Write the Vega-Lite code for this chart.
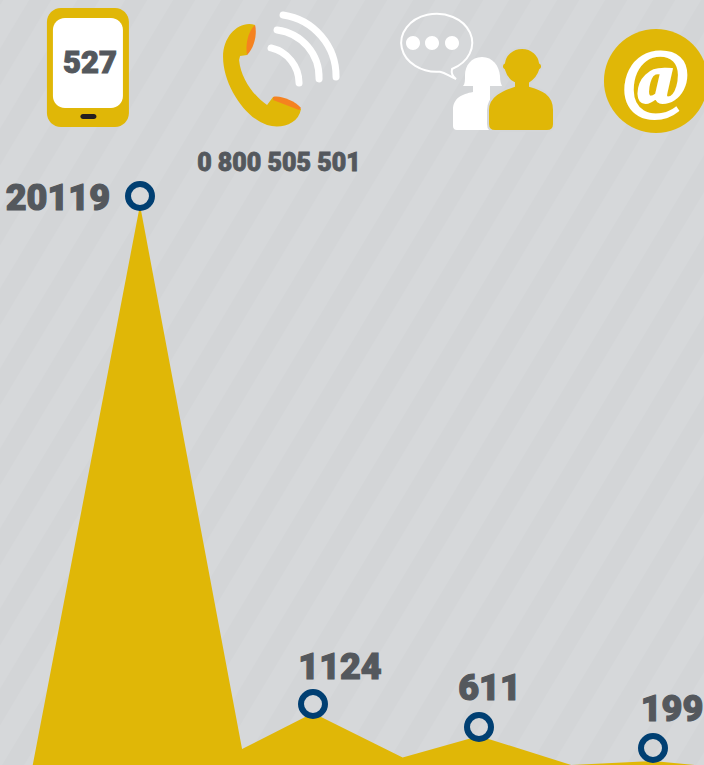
{"$schema":"https://vega.github.io/schema/vega-lite/v6.json","width":704,"height":765,"padding":0,"autosize":{"type":"none"},"background":"#d6d8da","view":{"stroke":null},
"datasets":{"series":[{"rank":0.38,"value":0},{"rank":1,"value":20119},{"rank":1.59,"value":395},{"rank":2,"value":1124},{"rank":2.54,"value":258},{"rank":3,"value":611},{"rank":3.53,"value":0},{"rank":4,"value":199},{"rank":4.24,"value":0}],
"peaks":[{"rank":1,"value":20119},{"rank":2,"value":1124},{"rank":3,"value":611},{"rank":4,"value":199}],
"icons":[{"name":"phone","rank":0.699,"value":25242},{"name":"handset","rank":1.694,"value":24981},{"name":"people","rank":2.982,"value":25093},{"name":"at","rank":4.017,"value":24756},{"name":"number","rank":1.803,"value":21727},{"name":"stripes","rank":2.235,"value":13502}]},
"encoding":{"x":{"field":"rank","type":"quantitative","axis":null,"scale":{"domain":[1,2,3,4],"range":[140,313,479,653],"zero":false,"nice":false}},"y":{"field":"value","type":"quantitative","axis":null,"scale":{"domain":[0,199,611,1124,20119,26000],"range":[765,761,736,713,205,47.7],"zero":false,"nice":false}}},
"layer":[
{"data":{"name":"icons"},"transform":[{"filter":"datum.name==='stripes'"}],"mark":{"type":"point","filled":true,"opacity":1,"size":4,"fill":"#d3d5d7","strokeWidth":0,"shape":"M-360 -400h22l-480 800h-22zM-312 -400h22l-480 800h-22zM-264 -400h22l-480 800h-22zM-216 -400h22l-480 800h-22zM-168 -400h22l-480 800h-22zM-120 -400h22l-480 800h-22zM-72 -400h22l-480 800h-22zM-24 -400h22l-480 800h-22zM24 -400h22l-480 800h-22zM72 -400h22l-480 800h-22zM120 -400h22l-480 800h-22zM168 -400h22l-480 800h-22zM216 -400h22l-480 800h-22zM264 -400h22l-480 800h-22zM312 -400h22l-480 800h-22zM360 -400h22l-480 800h-22zM408 -400h22l-480 800h-22zM456 -400h22l-480 800h-22zM504 -400h22l-480 800h-22zM552 -400h22l-480 800h-22zM600 -400h22l-480 800h-22zM648 -400h22l-480 800h-22zM696 -400h22l-480 800h-22zM744 -400h22l-480 800h-22zM792 -400h22l-480 800h-22zM840 -400h22l-480 800h-22z"}},
{"data":{"name":"series"},"mark":{"type":"area","color":"#e0b707","line":false,"opacity":1}},
{"data":{"name":"peaks"},"transform":[{"filter":"datum.value>199"}],"mark":{"type":"point","filled":false,"opacity":1,"size":576,"stroke":"#003f72","strokeWidth":6,"yOffset":-9}},
{"data":{"name":"peaks"},"transform":[{"filter":"datum.value===199"}],"mark":{"type":"point","filled":false,"opacity":1,"size":576,"stroke":"#003f72","strokeWidth":6,"yOffset":-13}},
{"data":{"name":"peaks"},"transform":[{"filter":"datum.value===20119"}],"mark":{"type":"text","font":"Roboto","fontWeight":900,"fontSize":36,"color":"#54585d","stroke":"#54585d","strokeWidth":1.2,"align":"right","baseline":"middle","dx":-30,"dy":-6},"encoding":{"text":{"field":"value","type":"quantitative","format":"d"}}},
{"data":{"name":"peaks"},"transform":[{"filter":"datum.value===1124"}],"mark":{"type":"text","font":"Roboto","fontWeight":900,"fontSize":36,"color":"#54585d","stroke":"#54585d","strokeWidth":1.2,"align":"center","baseline":"middle","dx":27,"dy":-45},"encoding":{"text":{"field":"value","type":"quantitative","format":"d"}}},
{"data":{"name":"peaks"},"transform":[{"filter":"datum.value===611"}],"mark":{"type":"text","font":"Roboto","fontWeight":900,"fontSize":36,"color":"#54585d","stroke":"#54585d","strokeWidth":1.2,"align":"center","baseline":"middle","dx":10.5,"dy":-47.5},"encoding":{"text":{"field":"value","type":"quantitative","format":"d"}}},
{"data":{"name":"peaks"},"transform":[{"filter":"datum.value===199"}],"mark":{"type":"text","font":"Roboto","fontWeight":900,"fontSize":36,"color":"#54585d","stroke":"#54585d","strokeWidth":1.2,"align":"center","baseline":"middle","dx":19,"dy":-51.5},"encoding":{"text":{"field":"value","type":"quantitative","format":"d"}}},
{"data":{"name":"icons"},"transform":[{"filter":"datum.name==='phone'"}],"layer":[
{"mark":{"type":"point","filled":true,"opacity":1,"size":4,"fill":"#e0b707","strokeWidth":0,"shape":"M-27 -60H27A14 14 0 0 1 41 -46V45A14 14 0 0 1 27 59H-27A14 14 0 0 1 -41 45V-46A14 14 0 0 1 -27 -60Z"}},
{"mark":{"type":"point","filled":true,"opacity":1,"size":4,"fill":"#ffffff","strokeWidth":0,"shape":"M-23 -50H23A12 12 0 0 1 35 -38V28A12 12 0 0 1 23 40H-23A12 12 0 0 1 -35 28V-38A12 12 0 0 1 -23 -50Z"}},
{"mark":{"type":"point","filled":true,"opacity":1,"size":4,"fill":"#231f20","strokeWidth":0,"shape":"M-5 46H6A2.5 2.5 0 0 1 6 51H-5A2.5 2.5 0 0 1 -5 46Z"}},
{"mark":{"type":"text","font":"Roboto","fontWeight":900,"fontSize":31,"color":"#54585d","stroke":"#54585d","strokeWidth":1,"align":"center","baseline":"middle","dx":2,"dy":-4},"encoding":{"text":{"datum":"527"}}}]},
{"data":{"name":"icons"},"transform":[{"filter":"datum.name==='handset'"}],"layer":[
{"mark":{"type":"point","filled":true,"opacity":1,"size":4,"fill":"#e0b707","strokeWidth":0,"shape":"M-5 -50C-20 -55 -37 -40 -37 -18C-37 10 -15 43 7 50C20 54 38 50 41 34L13 22L7 30C-5 22 -19 5 -21 -15L-20 -19L-13 -20Z"}},
{"mark":{"type":"point","filled":true,"opacity":1,"size":4,"fill":"#f58220","strokeWidth":0,"shape":"M-5 -50C-3 -42 -5 -28 -13 -20C-15 -30 -12 -44 -5 -50Z"}},
{"mark":{"type":"point","filled":true,"opacity":1,"size":4,"fill":"#f58220","strokeWidth":0,"shape":"M13 22C20 20 35 26 41 33L39 35L13 25Z"}},
{"mark":{"type":"point","filled":false,"opacity":1,"size":4,"stroke":"#ffffff","strokeWidth":7,"strokeCap":"round","shape":"M23 -60A62 62 0 0 1 76 2M17 -45A48 48 0 0 1 59 4M11 -27A36 36 0 0 1 39 8"}}]},
{"data":{"name":"icons"},"transform":[{"filter":"datum.name==='people'"}],"layer":[
{"mark":{"type":"point","filled":false,"opacity":1,"size":4,"stroke":"#ffffff","strokeWidth":2,"shape":"M-24 -3A35.5 29 0 1 0 -36 -0.3C-30 1 -26 5 -20 7C-24 4 -25 1 -24 -3Z"}},
{"mark":{"type":"point","filled":true,"opacity":1,"size":4,"fill":"#ffffff","strokeWidth":0,"shape":"M-70 -29A7 7 0 1 0 -56 -29A7 7 0 1 0 -70 -29ZM-51 -29A7 7 0 1 0 -37 -29A7 7 0 1 0 -51 -29ZM-31 -29A7 7 0 1 0 -17 -29A7 7 0 1 0 -31 -29Z"}},
{"mark":{"type":"point","filled":true,"opacity":1,"size":4,"fill":"#ffffff","strokeWidth":0,"shape":"M6 -15C17 -15 23 -6 24 4C24 9 25 12 26 14L14 14L14 58L-19 58Q-23 58 -23 54V38C-23 26 -14 22 -3 20L-3 14L-13 14C-11 12 -11 8 -11 3C-11 -6 -5 -15 6 -15Z"}},
{"mark":{"type":"point","filled":true,"opacity":1,"size":4,"fill":"#e0b707","stroke":"#d4d6d8","strokeWidth":2,"shape":"M46 -24C56 -24 63 -17 64 -9A4 4 0 0 1 64 -2C62 5 57 9 54 11L54 14C65 17 78 22 78 38V52Q78 59 71 59H19Q12 59 12 52V38C12 24 26 18 38 14L38 11C34 9 30 5 28 -2A4 4 0 0 1 28 -9C29 -17 36 -24 46 -24Z"}}]},
{"data":{"name":"icons"},"transform":[{"filter":"datum.name==='at'"}],"layer":[
{"mark":{"type":"point","filled":true,"opacity":1,"size":10816,"fill":"#e0b707","strokeWidth":0,"shape":"circle"}},
{"mark":{"type":"text","font":"Liberation Serif","fontWeight":"bold","fontStyle":"italic","fontSize":78,"color":"#ffffff","stroke":"#ffffff","strokeWidth":2,"align":"center","baseline":"middle","dx":0,"dy":-1},"encoding":{"text":{"datum":"@"}}}]},
{"data":{"name":"icons"},"transform":[{"filter":"datum.name==='number'"}],"mark":{"type":"text","font":"Roboto","fontWeight":900,"fontSize":25,"color":"#54585d","stroke":"#54585d","strokeWidth":0.8,"align":"center","baseline":"middle","dy":1},"encoding":{"text":{"datum":"0 800 505 501"}}}
]}
